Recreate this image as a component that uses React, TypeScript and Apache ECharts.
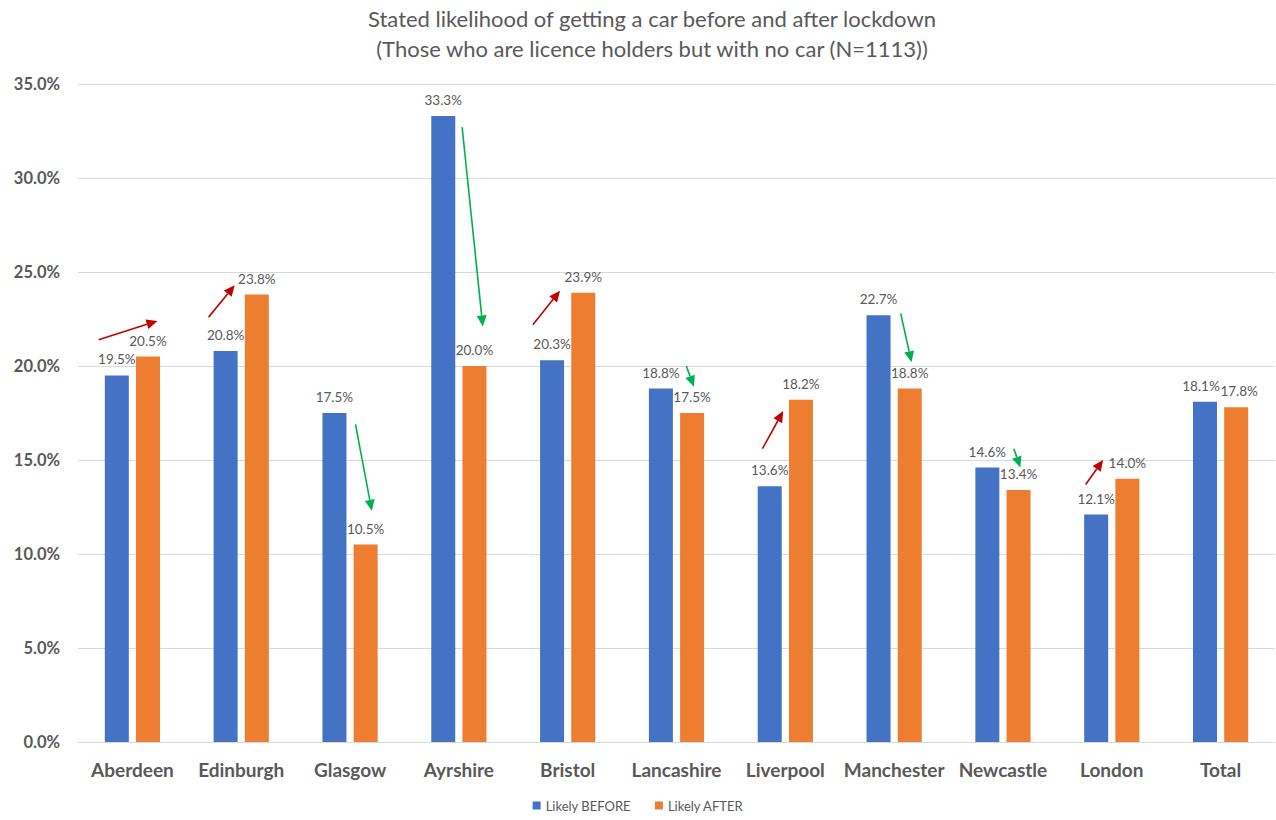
import React, { useEffect, useRef } from "react";
import * as echarts from "echarts";

const categories = ["Aberdeen", "Edinburgh", "Glasgow", "Ayrshire", "Bristol", "Lancashire", "Liverpool", "Manchester", "Newcastle", "London", "Total"];
const likelyBefore = [19.5, 20.8, 17.5, 33.3, 20.3, 18.8, 13.6, 22.7, 14.6, 12.1, 18.1];
const likelyAfter = [20.5, 23.8, 10.5, 20.0, 23.9, 17.5, 18.2, 18.8, 13.4, 14.0, 17.8];
const yTicks = [0, 5, 10, 15, 20, 25, 30, 35];

// Annotation arrows: [categoryIndex, startOffset (category units), startValue, endOffset, endValue, direction (1 up / -1 down)]
const arrows = [
  [0, -0.31, 21.4, 0.23, 22.4, 1],
  [1, -0.30, 22.6, -0.06, 24.3, 1],
  [2, 0.05, 16.9, 0.20, 12.3, -1],
  [3, 0.03, 32.7, 0.22, 22.1, -1],
  [4, -0.32, 22.2, -0.07, 24.0, 1],
  [5, 0.09, 20.0, 0.16, 18.9, -1],
  [6, -0.21, 15.6, -0.02, 17.6, 1],
  [7, 0.06, 22.8, 0.16, 20.2, -1],
  [8, 0.10, 15.6, 0.16, 14.6, -1],
  [9, -0.24, 13.7, -0.08, 15.0, 1],
];

const FONT = "Lato, 'Open Sans', sans-serif";
const GREY = "#595959";

export default function App() {
  const ref = useRef<HTMLDivElement>(null);
  useEffect(() => {
    if (!ref.current) return;
    const chart = echarts.init(ref.current, null, { renderer: "svg" });
    const labelCfg = {
      show: true,
      position: "top",
      distance: 9,
      color: GREY,
      fontSize: 13.5,
      fontFamily: FONT,
      formatter: (p: any) => p.value.toFixed(1) + "%",
    };
    const last = categories.length - 1;
    const withOffset = (vals: number[], dx: number) =>
      vals.map((v, i) => (i === last ? { value: v, label: { offset: [dx, 0] } } : v));
    chart.setOption({
      animation: false,
      backgroundColor: "#ffffff",
      title: {
        text: "Stated likelihood of getting a car before and after lockdown\n(Those who are licence holders but with no car (N=1113))",
        left: 647,
        textAlign: "center",
        top: -2,
        textStyle: {
          color: GREY,
          fontSize: 22,
          fontWeight: "normal",
          fontFamily: FONT,
          lineHeight: 30,
        },
      },
      legend: {
        data: ["Likely BEFORE", "Likely AFTER"],
        bottom: 3,
        left: "center",
        itemWidth: 8,
        itemHeight: 8,
        itemGap: 24,
        icon: "rect",
        textStyle: { color: GREY, fontSize: 13, fontFamily: FONT },
      },
      grid: { left: 78, right: 1, top: 84, bottom: 78, containLabel: false },
      xAxis: {
        type: "category",
        data: categories,
        axisLine: { lineStyle: { color: "#d9d9d9" } },
        axisTick: { show: false },
        axisLabel: { color: GREY, fontSize: 19, fontWeight: "bold", fontFamily: FONT, margin: 18, interval: 0 },
      },
      yAxis: {
        type: "value",
        min: 0,
        max: 35,
        interval: 5,
        axisLine: { show: false },
        axisTick: { show: false },
        splitLine: { lineStyle: { color: "#d9d9d9" } },
        axisLabel: {
          color: GREY,
          fontSize: 16.5,
          fontWeight: "bold",
          fontFamily: FONT,
          margin: 18,
          formatter: (v: number) => (yTicks.includes(v) ? v.toFixed(1) + "%" : ""),
        },
      },
      series: [
        {
          name: "Likely BEFORE",
          type: "bar",
          data: withOffset(likelyBefore, -4),
          barWidth: 24,
          barGap: "30%",
          itemStyle: { color: "#4472C4" },
          label: labelCfg,
        },
        {
          name: "Likely AFTER",
          type: "bar",
          data: withOffset(likelyAfter, 3),
          barWidth: 24,
          itemStyle: { color: "#ED7D31" },
          label: labelCfg,
        },
        {
          name: "arrows",
          type: "custom",
          data: arrows,
          encode: { x: 0, y: 2 },
          silent: true,
          z: 10,
          renderItem: (params: any, api: any) => {
            const cat = api.value(0);
            const band = api.size([1, 0])[0];
            const p1 = api.coord([cat, api.value(2)]);
            const p2 = api.coord([cat, api.value(4)]);
            const x1 = p1[0] + api.value(1) * band;
            const y1 = p1[1];
            const x2 = p2[0] + api.value(3) * band;
            const y2 = p2[1];
            const color = api.value(5) > 0 ? "#C00000" : "#00B050";
            const ang = Math.atan2(y2 - y1, x2 - x1);
            const hl = 11;
            const hw = 5;
            const bx = x2 - hl * Math.cos(ang);
            const by = y2 - hl * Math.sin(ang);
            const nx = -Math.sin(ang) * hw;
            const ny = Math.cos(ang) * hw;
            return {
              type: "group",
              children: [
                {
                  type: "line",
                  shape: { x1, y1, x2: bx, y2: by },
                  style: { stroke: color, lineWidth: 1.6 },
                },
                {
                  type: "polygon",
                  shape: { points: [[x2, y2], [bx + nx, by + ny], [bx - nx, by - ny]] },
                  style: { fill: color },
                },
              ],
            };
          },
        },
      ],
    });
    return () => chart.dispose();
  }, []);
  return (
    <div
      ref={ref}
      style={{ position: "fixed", left: 0, top: 0, width: 1276, height: 820, background: "#fff" }}
    />
  );
}
